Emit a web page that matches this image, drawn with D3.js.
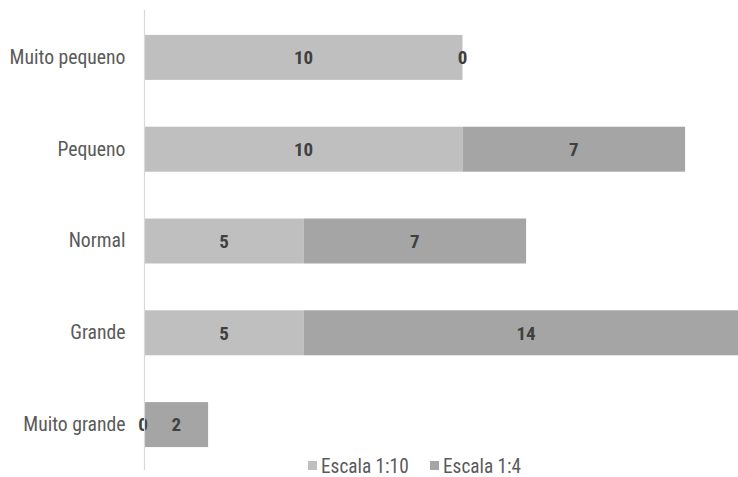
<!DOCTYPE html>
<html><head><meta charset="utf-8">
<script src="https://cdn.jsdelivr.net/npm/d3@7"></script>
<style>
html,body{margin:0;padding:0;background:#fff;}
svg{display:block;}
text{font-family:"Liberation Sans Narrow","Arial Narrow","Roboto Condensed",sans-serif;}
</style></head>
<body><svg id="chart" width="738" height="477"></svg>
<script>
const categories = ["Muito pequeno","Pequeno","Normal","Grande","Muito grande"];
const seriesNames = ["Escala 1:10","Escala 1:4"];
const escala110 = [10,10,5,5,0];
const escala14 = [0,7,7,14,2];
const colors = ["#bfbfbf","#a5a5a5"];

const svg = d3.select("#chart");
const x0 = 144.5;
const x = d3.scaleLinear().domain([0,10]).range([x0, x0+318]);
const y = d3.scaleBand().domain(categories).range([11.5,470.5]).paddingInner(0.51).paddingOuter(0.255);

const data = categories.map((c,i)=>({cat:c, "Escala 1:10":escala110[i], "Escala 1:4":escala14[i]}));
const stack = d3.stack().keys(seriesNames)(data);

const g = svg.append("g");
stack.forEach((layer,si)=>{
  g.selectAll(null).data(layer).enter().append("rect")
    .attr("x",d=>x(d[0]))
    .attr("y",d=>y(d.data.cat))
    .attr("width",d=>x(d[1])-x(d[0]))
    .attr("height",y.bandwidth())
    .attr("fill",colors[si]);
});
stack.forEach((layer,si)=>{
  g.selectAll(null).data(layer).enter().append("text")
    .attr("x",d=>(x(d[0])+x(d[1]))/2 - (d[1]-d[0]===0 && d[0]===0 ? 1.5 : 0))
    .attr("y",d=>y(d.data.cat)+y.bandwidth()/2)
    .attr("dy","0.36em")
    .attr("text-anchor","middle")
    .attr("font-size","19px")
    .attr("font-weight","bold")
    .attr("fill","#404040")
    .text(d=>d[1]-d[0]);
});

// axis
const axis = svg.append("g").attr("transform",`translate(${x0},0)`)
  .call(d3.axisLeft(y).tickSize(0).tickPadding(19));
axis.select(".domain").attr("stroke","#d9d9d9").attr("stroke-width",1.2).attr("d","M0,10V470");
axis.selectAll("text").attr("font-size","19.7px").attr("fill","#5a5a5a")
  .style("font-family",'"Liberation Sans Narrow","Arial Narrow","Roboto Condensed",sans-serif');

// legend
const legend = svg.append("g");
const lx = [308, 430];
seriesNames.forEach((s,i)=>{
  legend.append("rect").attr("x",lx[i]).attr("y",461).attr("width",9).attr("height",9).attr("fill",colors[i]);
  legend.append("text").attr("x",lx[i]+13).attr("y",466).attr("dy","0.36em")
    .attr("font-size","19.3px").attr("fill","#5a5a5a").text(s);
});
</script></body></html>
